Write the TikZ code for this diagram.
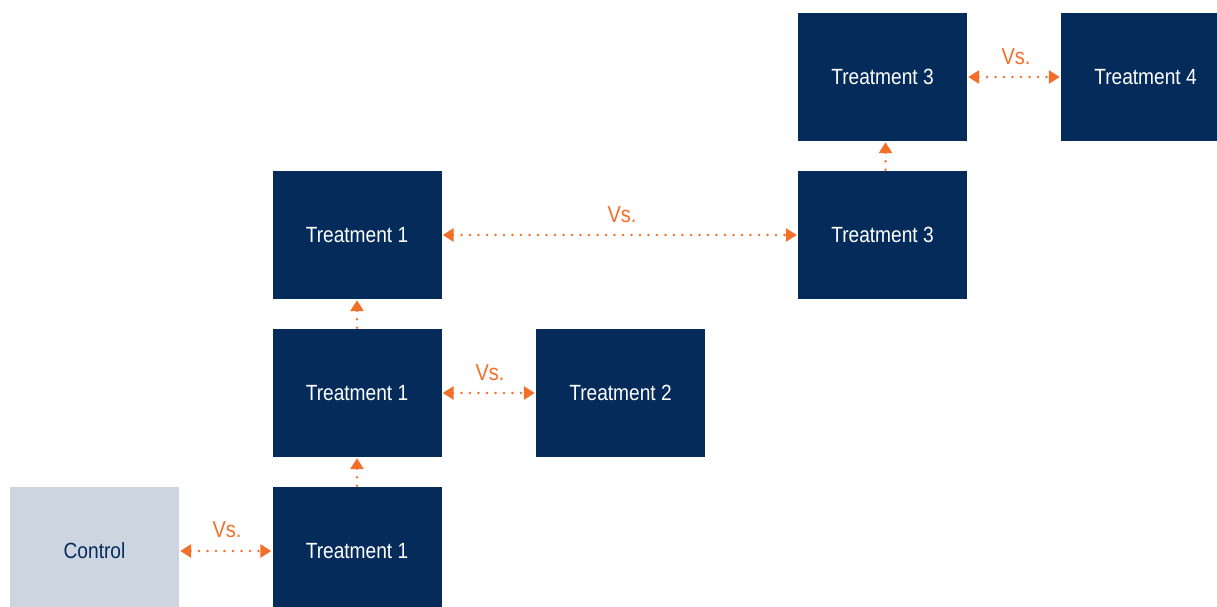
\documentclass[tikz,border=0pt]{standalone}
\usepackage{fontspec}
\setmainfont{Liberation Sans}[FakeStretch=0.87]
\usetikzlibrary{arrows.meta}
\definecolor{navy}{HTML}{052B5B}
\definecolor{ctrlgray}{HTML}{CDD6E0}
\definecolor{accent}{HTML}{F26F2A}
\begin{document}
\begin{tikzpicture}[x=1pt,y=-1pt,
  box/.style={fill=navy,text=white,minimum width=169pt,minimum height=128pt,inner sep=0pt,font=\fontsize{22}{26}\selectfont},
  ctrlbox/.style={box,fill=ctrlgray,text=navy},
  link/.style={accent,line width=2.8pt,line cap=round,dash pattern=on 0pt off 8.5pt,
    shorten <=1pt,shorten >=1pt},
  both/.style={link,{Triangle[length=11pt,width=13pt,line cap=butt,fill=accent]}-{Triangle[length=11pt,width=13pt,line cap=butt,fill=accent]}},
  up/.style={link,-{Triangle[length=11pt,width=13pt,line cap=butt,fill=accent]}},
  vs/.style={text=accent,font=\fontsize{23}{27}\selectfont,inner sep=0pt}]
\useasboundingbox (0,0) rectangle (1217,607);
\clip (0,0) rectangle (1217,607);
% boxes
\node[ctrlbox] (ctrl) at (94.5,551) {Control};
\node[box] (t1a) at (357,551) {Treatment 1};
\node[box] (t1b) at (357,393) {Treatment 1};
\node[box] (t2)  at (620.5,393) {Treatment 2};
\node[box] (t1c) at (357,235) {Treatment 1};
\node[box] (t3a) at (882.5,235) {Treatment 3};
\node[box] (t3b) at (882.5,77) {Treatment 3};
\node[box] (t4)  at (1145.5,77) {Treatment 4};
% comparisons
\draw[both] (ctrl.east) -- (t1a.west);
\node[vs] (vs1) at (227,530) {Vs.};
\draw[both] (t1b.east) -- (t2.west);
\node[vs] (vs2) at (490,373) {Vs.};
\draw[both] (t1c.east) -- (t3a.west);
\node[vs] (vs3) at (622,215) {Vs.};
\draw[both] (t3b.east) -- (t4.west);
\node[vs] (vs4) at (1016,57) {Vs.};
% progressions
\draw[up] (t1a.north) -- (t1b.south);
\draw[up] (t1b.north) -- (t1c.south);
\draw[up] ([xshift=3pt]t3a.north) -- ([xshift=3pt]t3b.south);
\end{tikzpicture}
\end{document}
